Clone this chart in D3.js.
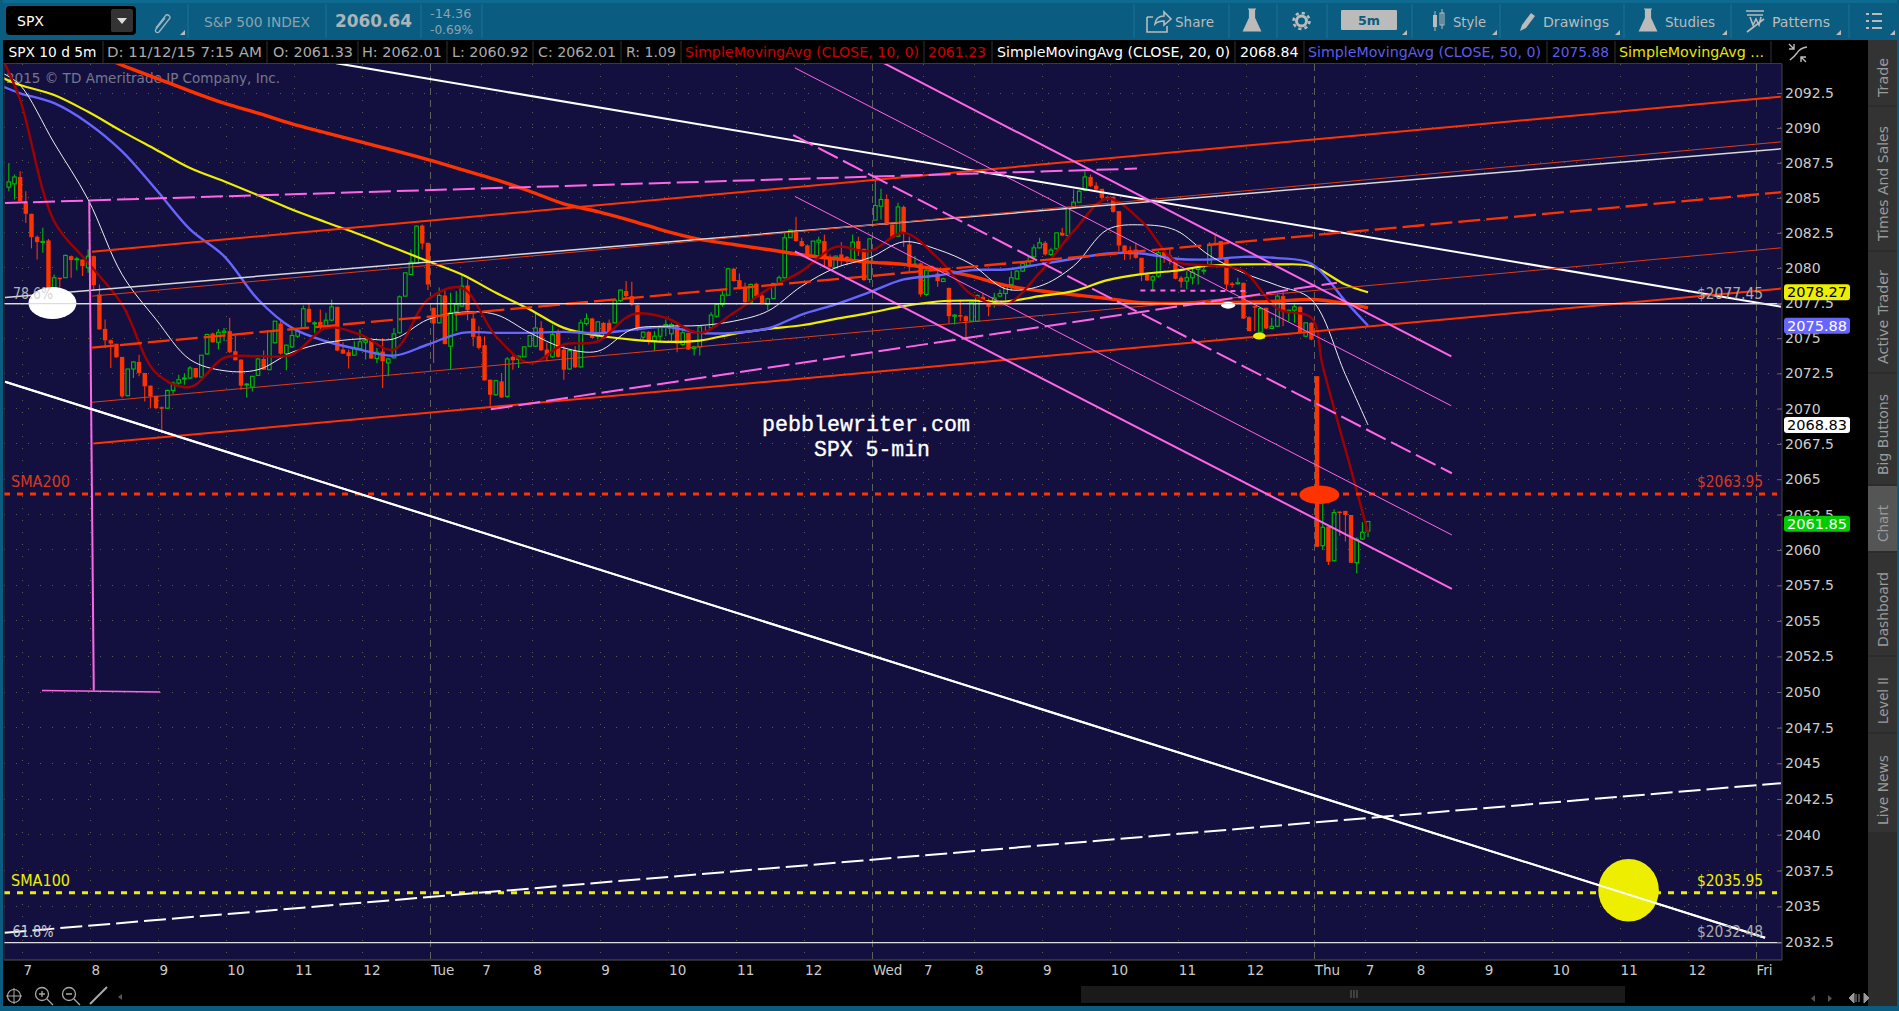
<!DOCTYPE html>
<html><head><meta charset="utf-8">
<script src="https://cdn.jsdelivr.net/npm/d3@7"></script>
<style>html,body{margin:0;padding:0;background:#000;overflow:hidden}svg{display:block}text{font-family:"DejaVu Sans",sans-serif}</style>
</head><body><svg id="c" width="1899" height="1011"></svg>
<script>
const firstBar=3;
const opens=[2085.76,2086.0,2086.49,2084.76,2083.86,2082.22,2081.84,2081.96,2078.35,2079.3,
2079.3,2080.84,2080.6,2080.6,2080.01,2080.84,2078.11,2075.66,2074.85,2074.6,
2073.67,2070.91,2072.81,2073.31,2072.53,2071.63,2070.91,2070.1,2070.03,2071.29,
2071.81,2072.1,2072.17,2072.88,2072.24,2073.88,2075.33,2074.71,2075.4,2075.5,
2074.07,2073.48,2071.67,2071.53,2072.36,2073.52,2072.76,2074.67,2076.04,2073.9,
2074.38,2075.14,2075.73,2077.09,2076.02,2076.16,2075.85,2076.28,2077.23,2074.19,
2074.0,2073.79,2074.26,2074.71,2074.9,2073.55,2074.05,2073.24,2073.6,2075.38,
2077.99,2079.53,2080.32,2083.02,2081.79,2077.16,2076.09,2078.04,2074.43,2076.87,
2077.28,2078.75,2076.4,2075.14,2074.5,2072.05,2070.98,2071.93,2070.87,2073.67,
2073.48,2073.67,2074.43,2074.43,2075.73,2074.19,2073.67,2075.38,2074.19,2072.81,
2074.12,2072.96,2076.04,2076.4,2075.14,2076.09,2076.09,2076.09,2077.68,2078.35,
2077.99,2077.35,2075.07,2075.45,2074.83,2075.14,2075.85,2075.31,2075.8,2074.55,
2075.38,2074.26,2074.38,2075.43,2075.73,2076.56,2077.4,2078.06,2079.94,2079.13,
2078.58,2077.56,2078.87,2078.04,2077.4,2077.82,2078.89,2079.3,2082.15,2082.69,
2081.91,2081.6,2080.89,2081.84,2081.91,2080.72,2080.01,2080.96,2080.79,2080.56,
2081.91,2081.36,2079.18,2083.41,2084.4,2084.92,2083.1,2082.26,2084.35,2081.67,
2080.18,2080.32,2078.11,2080.13,2079.6,2079.03,2078.58,2076.56,2076.64,2076.56,
2076.21,2076.21,2077.94,2077.47,2077.52,2077.99,2078.18,2078.82,2079.22,2079.77,
2080.18,2080.79,2081.43,2081.79,2080.96,2081.36,2082.5,2082.31,2084.28,2084.69,
2085.54,2086.49,2085.87,2085.64,2085.07,2085.07,2084.05,2081.6,2081.27,2081.31,
2080.72,2079.53,2079.13,2079.42,2081.13,2080.89,2080.72,2079.3,2079.06,2079.3,
2079.89,2079.77,2080.25,2081.79,2081.91,2080.72,2078.89,2078.87,2078.94,2076.49,
2077.28,2075.43,2077.16,2075.69,2075.85,2077.99,2076.87,2076.99,2077.23,2075.14,
2076.09,2072.3,2060.3,2061.65,2059.24,2062.71,2062.76,2062.47,2059.1,2060.77,2061.33];
const highs=[2087.49,2086.66,2086.9,2085.47,2083.86,2082.31,2082.86,2082.07,2079.53,2079.3,
2080.96,2080.89,2080.79,2080.6,2081.31,2080.89,2078.82,2076.33,2074.9,2074.6,
2073.67,2072.81,2073.36,2073.83,2072.53,2071.63,2070.91,2070.15,2071.34,2071.93,
2072.41,2072.48,2073.0,2072.88,2073.79,2075.31,2075.38,2075.66,2075.73,2076.45,
2075.19,2073.48,2071.81,2072.29,2073.6,2074.12,2075.5,2076.21,2076.33,2074.55,
2075.78,2075.73,2077.33,2077.52,2076.21,2077.04,2076.8,2077.75,2077.23,2074.71,
2074.19,2074.78,2075.62,2075.02,2075.02,2074.31,2075.02,2073.6,2075.73,2078.04,
2079.65,2081.31,2083.02,2083.1,2081.79,2077.16,2078.6,2078.47,2078.23,2078.35,
2079.46,2079.18,2076.8,2075.85,2075.14,2072.05,2072.05,2072.53,2073.67,2073.79,
2073.76,2074.43,2075.21,2076.8,2076.21,2074.67,2075.97,2075.62,2074.43,2074.19,
2074.43,2076.33,2076.76,2076.45,2076.21,2076.14,2076.33,2077.75,2078.47,2079.06,
2079.01,2077.4,2075.5,2075.5,2075.5,2075.85,2076.33,2076.09,2076.09,2075.73,
2075.38,2074.43,2075.85,2075.85,2076.85,2077.4,2078.35,2080.01,2080.01,2079.61,
2078.94,2078.89,2078.94,2078.27,2077.87,2078.94,2079.46,2082.5,2082.74,2083.64,
2082.15,2081.67,2081.91,2082.22,2082.38,2080.96,2080.89,2081.84,2080.84,2082.38,
2082.22,2081.36,2082.07,2086.3,2085.64,2085.23,2083.1,2084.64,2084.45,2082.22,
2080.84,2080.37,2079.89,2080.17,2079.77,2079.3,2078.58,2076.68,2077.75,2076.61,
2077.63,2078.11,2078.23,2077.8,2078.23,2078.47,2078.82,2079.77,2079.84,2080.37,
2080.84,2081.67,2082.15,2081.91,2081.43,2082.5,2082.86,2084.28,2085.59,2085.54,
2086.9,2086.66,2086.11,2085.64,2085.12,2085.12,2084.05,2081.6,2081.55,2081.79,
2080.72,2079.65,2079.46,2081.2,2081.36,2081.43,2080.72,2079.41,2079.77,2080.01,
2080.01,2080.01,2081.84,2082.31,2081.91,2080.72,2078.99,2079.3,2078.94,2076.56,
2077.33,2077.16,2077.16,2076.45,2078.11,2078.35,2077.04,2077.52,2077.28,2076.09,
2076.14,2072.3,2063.96,2061.65,2062.87,2062.71,2062.76,2062.47,2060.89,2061.95,2062.01];
const lows=[2085.47,2084.88,2084.76,2083.2,2081.39,2080.6,2081.08,2078.35,2077.87,2077.75,
2079.3,2079.3,2079.84,2079.42,2079.65,2078.47,2075.62,2074.31,2072.88,2073.6,
2070.75,2070.87,2072.17,2072.29,2070.51,2070.03,2069.96,2068.25,2069.99,2071.03,
2071.7,2071.7,2072.1,2072.17,2072.2,2073.83,2074.67,2074.19,2074.78,2073.95,
2073.43,2071.34,2070.79,2071.22,2072.34,2072.76,2072.72,2074.62,2073.83,2072.72,
2074.31,2075.02,2075.73,2076.09,2075.38,2075.5,2075.8,2076.21,2074.07,2073.9,
2072.84,2073.79,2074.26,2073.48,2073.52,2073.24,2071.46,2072.29,2073.55,2075.33,
2077.99,2079.53,2080.32,2081.31,2078.42,2073.24,2076.04,2074.55,2072.76,2075.5,
2077.23,2076.28,2074.43,2074.19,2072.0,2070.2,2070.91,2070.75,2070.75,2072.76,
2072.88,2073.67,2074.38,2074.38,2074.09,2073.36,2073.6,2073.6,2072.05,2072.76,
2072.88,2072.91,2075.9,2075.02,2074.9,2075.02,2075.26,2076.04,2077.56,2077.87,
2077.28,2075.5,2074.85,2074.55,2074.07,2074.78,2075.14,2074.78,2074.0,2074.43,
2074.19,2073.76,2073.76,2075.26,2075.69,2076.45,2077.23,2078.06,2079.01,2078.47,
2077.52,2077.52,2077.94,2077.42,2076.99,2077.8,2078.87,2079.25,2082.15,2081.86,
2081.5,2080.84,2080.84,2080.84,2080.01,2080.01,2079.99,2080.13,2080.18,2080.48,
2080.84,2079.06,2078.94,2083.41,2083.45,2083.05,2082.15,2082.22,2081.5,2079.77,
2080.13,2077.94,2077.99,2079.77,2078.66,2078.99,2076.04,2075.97,2076.21,2075.02,
2076.16,2076.16,2077.63,2076.56,2077.16,2077.94,2077.56,2078.35,2079.18,2079.72,
2080.08,2080.72,2081.39,2080.89,2080.84,2081.31,2082.26,2082.26,2084.28,2084.69,
2085.47,2085.78,2085.54,2084.76,2084.76,2083.93,2081.2,2080.56,2080.6,2080.65,
2079.06,2079.06,2078.35,2079.3,2080.37,2080.25,2079.18,2078.58,2078.47,2078.82,
2078.82,2079.53,2080.13,2081.6,2080.6,2078.47,2078.58,2078.82,2076.39,2075.5,
2075.5,2075.38,2075.66,2075.66,2075.8,2075.85,2076.21,2076.09,2075.38,2075.09,
2074.85,2060.23,2060.0,2058.94,2059.17,2061.01,2060.59,2059.1,2058.35,2060.7,2060.92];
const closes=[2086.14,2086.49,2084.76,2083.86,2082.19,2081.84,2081.89,2078.47,2079.3,2079.25,
2080.89,2080.56,2080.65,2080.13,2080.84,2078.77,2075.62,2074.85,2074.62,2073.64,
2070.87,2072.81,2073.31,2072.53,2071.58,2070.87,2070.03,2070.03,2071.29,2071.81,
2072.05,2072.17,2072.88,2072.22,2073.79,2075.26,2074.71,2075.42,2075.5,2074.0,
2073.43,2071.63,2071.74,2072.29,2073.52,2072.76,2075.5,2076.21,2073.9,2074.5,
2075.19,2075.5,2077.09,2076.14,2076.09,2075.85,2076.28,2077.23,2074.12,2073.9,
2073.72,2074.31,2074.74,2074.85,2073.55,2074.0,2073.36,2073.52,2075.31,2077.94,
2079.65,2080.41,2082.98,2081.74,2078.82,2076.04,2078.04,2074.59,2076.8,2077.4,
2078.7,2076.99,2075.09,2074.31,2072.0,2070.98,2071.98,2070.79,2073.52,2073.43,
2073.72,2074.38,2075.19,2075.73,2074.14,2073.72,2075.26,2073.67,2072.76,2074.12,
2072.93,2076.09,2076.38,2075.02,2076.16,2075.38,2075.38,2077.7,2078.42,2077.99,
2077.4,2075.62,2075.43,2074.85,2075.14,2075.85,2075.97,2075.97,2074.62,2075.38,
2074.19,2074.38,2075.8,2075.38,2076.64,2077.4,2078.06,2079.94,2079.06,2078.58,
2077.56,2078.82,2077.99,2077.47,2077.8,2078.89,2079.3,2082.15,2082.69,2081.91,
2081.55,2080.89,2081.91,2081.98,2080.72,2080.08,2080.84,2080.6,2080.72,2081.84,
2081.31,2079.13,2082.07,2084.45,2084.88,2083.1,2082.15,2084.35,2082.5,2080.08,
2080.27,2078.11,2079.84,2079.84,2079.06,2079.22,2076.56,2076.64,2076.56,2076.21,
2077.56,2078.04,2077.7,2077.23,2077.87,2078.18,2078.75,2079.3,2079.77,2080.32,
2080.48,2081.43,2081.79,2080.96,2081.27,2082.5,2082.31,2084.28,2084.69,2085.47,
2086.49,2085.83,2085.59,2085.0,2085.0,2084.0,2081.6,2081.08,2080.96,2080.72,
2079.6,2079.11,2079.37,2081.08,2080.79,2080.48,2079.23,2079.01,2079.3,2079.7,
2080.01,2079.84,2081.67,2081.67,2080.72,2078.82,2078.82,2078.94,2076.39,2075.5,
2077.23,2077.11,2075.69,2075.85,2077.99,2076.92,2076.99,2077.23,2075.43,2076.09,
2074.9,2060.23,2061.6,2059.17,2062.64,2062.64,2062.47,2059.1,2060.75,2061.25,2062.01];

const maIdx=[2,5,11,17,23,29,35,41,47,53,59,65,71,77,83,89,95,101,107,113,119,125,131,137,143,149,155,161,167,173,179,185,191,197,203,209,215,221,227,233,239,243];
const sma10Idx=[2,5,11,17,23,29,35,41,47,53,59,65,71,77,83,89,95,101,107,113,119,125,131,137,143,149,155,161,167,173,179,185,191,197,203,209,215,221,227,233,235,240,243];
const sma10=[2094.85,2092.0,2083.33,2080.37,2077.4,2072.53,2071.53,2073.6,2073.72,2073.83,2075.73,2075.26,2074.19,2077.75,2078.58,2075.14,2073.24,2074.55,2074.78,2076.68,2076.45,2075.38,2076.8,2078.47,2079.77,2081.5,2081.2,2082.5,2080.72,2078.11,2077.4,2079.65,2082.62,2084.93,2083.33,2080.48,2080.17,2079.77,2077.09,2076.45,2073.0,2065.66,2061.23];
const sma20=[2093.9,2093.07,2088.92,2084.88,2079.53,2076.33,2073.48,2072.69,2072.76,2074.0,2074.67,2074.95,2074.95,2076.33,2076.85,2076.68,2075.38,2074.31,2074.07,2075.62,2075.85,2075.9,2076.21,2076.92,2078.7,2080.01,2080.72,2081.86,2081.31,2080.25,2078.51,2078.7,2080.13,2082.74,2083.07,2082.69,2080.89,2079.65,2078.75,2077.75,2072.41,2068.84];
const sma50=[2092.95,2092.48,2091.77,2090.34,2088.32,2085.59,2082.74,2080.84,2077.75,2075.73,2074.78,2074.19,2073.76,2074.55,2075.38,2075.38,2075.38,2075.45,2075.35,2075.59,2075.8,2075.38,2075.38,2075.69,2076.68,2077.4,2078.27,2079.18,2079.46,2079.84,2079.89,2080.25,2080.65,2081.03,2081.03,2080.65,2080.6,2080.79,2080.7,2080.3,2077.63,2075.88];
const sma100=[2093.57,2093.07,2092.36,2091.15,2089.75,2088.44,2087.13,2086.18,2085.19,2084.17,2083.26,2082.38,2081.43,2080.48,2079.53,2078.23,2077.04,2075.73,2075.19,2074.9,2074.74,2074.83,2075.31,2075.66,2075.92,2076.37,2076.8,2077.28,2077.61,2077.68,2077.61,2077.99,2078.35,2079.13,2079.56,2079.8,2080.17,2080.25,2080.25,2080.13,2078.82,2078.27];
const sma200Idx=[17,23,29,35,41,47,53,59,65,71,77,83,89,95,101,107,113,119,125,131,137,143,149,155,161,167,173,179,185,191,197,203,209,215,221,227,233,239,243];
const sma200=[2095.57,2094.5,2093.57,2092.64,2091.77,2091.05,2090.29,2089.65,2089.01,2088.39,2087.73,2087.02,2086.3,2085.47,2084.57,2084.02,2083.36,2082.62,2082.03,2081.67,2081.31,2080.94,2080.65,2080.41,2080.25,2079.89,2079.42,2078.75,2078.37,2078.09,2077.82,2077.52,2077.47,2077.52,2077.56,2077.63,2077.75,2077.47,2077.16];

// trend lines: [bar1, price1, bar2, price2]
const whiteUpper=[61.3,2094.64,316.4,2077.24];
const whiteLower=[2.83,2071.9,313.6,2032.82];
const whiteDashed=[2.74,2033.16,316.4,2043.61];
const whiteThin=[2.83,2077.9,316.4,2088.5];
const channelTop=[18.2,2081.16,316.4,2092.24];
const channelThinTop=[18.2,2077.99,316.4,2089.0];
const channelMid=[18.2,2074.33,316.4,2085.4];
const channelThinLow=[18.2,2070.45,316.4,2081.43];
const channelLow=[18.4,2067.52,316.4,2078.53];
const pinkVertical=[17.7,2084.73,18.5,2050.1];
const pinkFoot=[9.36,2050.1,30.2,2050.0];
const pinkFlatDash=[2.83,2084.63,202.7,2087.09];
const pinkRiseDash=[88.6,2069.95,238.0,2078.95];
const pinkShortDash=[203.3,2078.4,222.3,2078.35];
const pinkFall1=[158.0,2094.64,258.2,2073.7];
const pinkFallThin1=[142.3,2094.3,258.2,2070.2];
const pinkFallDash=[142.0,2089.48,258.3,2065.42];
const pinkFallThin2=[142.3,2085.1,258.3,2061.06];
const pinkFall2=[142.3,2081.17,258.3,2057.25];

const priceTicks=d3.range(2032.5,2093,2.5);
const timeTickBars=[6,18,30,42,54,66,78,87,96,108,120,132,144,156,165,174,186,198,210,222,234,243,252,264,276,288,300,312];
const timeTickLabels=["7","8","9","10","11","12","Tue","7","8","9","10","11","12","Wed","7","8","9","10","11","12","Thu","7","8","9","10","11","12","Fri"];
const dayBars=[78,156,234,312];
const levels=[{p:2077.45,label:"$2077.45",name:"78.6%",color:"#dddddd",tc:"#aaaaaa"},{p:2063.95,label:"$2063.95",name:"SMA200",color:"#ff3300",tc:"#d8391a"},{p:2035.95,label:"$2035.95",name:"SMA100",color:"#eeee00",tc:"#eeee00"},{p:2032.48,label:"$2032.48",name:"61.8%",color:"#dddddd",tc:"#aaaaaa"}];
const priceTags=[{v:2078.27,t:"2078.27",bg:"#eeee00",fg:"#000"},{v:2075.88,t:"2075.88",bg:"#6666ff",fg:"#fff"},{v:2068.83,t:"2068.83",bg:"#ffffff",fg:"#000"},{v:2061.85,t:"2061.85",bg:"#00cc00",fg:"#fff"}];

const svg=d3.select("#c");
const x=d3.scaleLinear().domain([0,312]).range([-11,1756]);
const y=d3.scaleLog().domain([2032.5,2092.5]).range([942.3,93]);
const L=4,R=1782,T=64,B=960;
const BAR="#0a5c80",ORANGE="#ff3300",GREEN="#00bb00",PINK="#ff66e6";

function txt(g,px,py,s,color,size,w,o={}){
  const t=g.append("text").attr("x",px).attr("y",py).attr("dy","0.35em").attr("fill",color).attr("font-size",size).text(s);
  if(w){t.attr("textLength",w).attr("lengthAdjust","spacingAndGlyphs");}
  if(o.weight)t.attr("font-weight",o.weight);
  if(o.family)t.style("font-family",o.family);
  if(o.anchor)t.attr("text-anchor",o.anchor);
  if(o.rot)t.attr("transform",`rotate(${o.rot} ${px} ${py})`);
  return t;
}
// frame
svg.append("rect").attr("width",1899).attr("height",1011).attr("fill","#000");
svg.append("rect").attr("width",1899).attr("height",40).attr("fill",BAR);
svg.append("rect").attr("width",1899).attr("height",3).attr("fill","#0d6a90");
svg.append("rect").attr("y",1006).attr("width",1899).attr("height",5).attr("fill",BAR);
svg.append("rect").attr("width",3).attr("height",1011).attr("fill",BAR);
svg.append("rect").attr("x",1897).attr("width",2).attr("height",1011).attr("fill",BAR);
svg.append("rect").attr("x",L).attr("y",T).attr("width",R-L).attr("height",B-T).attr("fill","#131040");

// grid
const grid=svg.append("g").attr("stroke","#5a5a50").attr("stroke-width",1).attr("shape-rendering","crispEdges");
grid.selectAll(".h").data(priceTicks).join("line").attr("x1",L).attr("x2",R).attr("y1",d=>y(d)).attr("y2",d=>y(d)).attr("stroke-dasharray","1,11");
grid.selectAll(".v").data(timeTickBars.filter(d=>!dayBars.includes(d))).join("line").attr("x1",d=>x(d)).attr("x2",d=>x(d)).attr("y1",T).attr("y2",B).attr("stroke-dasharray","1,11");
grid.selectAll(".d").data(dayBars).join("line").attr("x1",d=>x(d)).attr("x2",d=>x(d)).attr("y1",T).attr("y2",B).attr("stroke-dasharray","7,5").attr("stroke","#5f5f5f");

svg.append("defs").append("clipPath").attr("id","plot").append("rect").attr("x",L).attr("y",T).attr("width",R-L).attr("height",B-T);
const plot=svg.append("g").attr("clip-path","url(#plot)");

// watermark
txt(plot,6,78,"2015 © TD Ameritrade IP Company, Inc.","#77778c",14.5,274);

// candles
const idx=d3.range(opens.length);
const cx=i=>x(firstBar+i+0.5);
const candles=plot.append("g");
candles.selectAll(".w").data(idx).join("line").attr("x1",cx).attr("x2",cx).attr("y1",i=>y(highs[i])).attr("y2",i=>y(lows[i]))
  .attr("stroke",i=>closes[i]>=opens[i]?GREEN:ORANGE).attr("stroke-width",1.1);
candles.selectAll(".r").data(idx.filter(i=>closes[i]<opens[i])).join("rect")
  .attr("x",i=>cx(i)-2.2).attr("width",4.4).attr("y",i=>y(opens[i])).attr("height",i=>Math.max(1.5,y(closes[i])-y(opens[i]))).attr("fill",ORANGE);
candles.selectAll(".g").data(idx.filter(i=>closes[i]>=opens[i])).join("rect")
  .attr("x",i=>cx(i)-1.8).attr("width",3.6).attr("y",i=>y(closes[i])).attr("height",i=>Math.max(1,y(opens[i])-y(closes[i]))).attr("fill","#131040").attr("stroke",GREEN).attr("stroke-width",1.1);

// moving averages
function ma(ix,vals,color,w){
  const path=d3.line().x((d,i)=>x(ix[i]+0.5)).y(d=>y(d)).curve(d3.curveCatmullRom.alpha(0.5));
  plot.append("path").datum(vals).attr("d",path).attr("fill","none").attr("stroke",color).attr("stroke-width",w).attr("stroke-linejoin","round");
}
ma(sma200Idx,sma200,ORANGE,3.4);
ma(maIdx,sma100,"#eeee00",2.2);
ma(maIdx,sma50,"#6666ff",2.4);
ma(maIdx,sma20,"#eeeeee",1);
ma(sma10Idx,sma10,"#a00000",2.4);

// levels
plot.selectAll(".lv0").data([levels[0],levels[3]]).join("line").attr("x1",L).attr("x2",R).attr("y1",d=>y(d.p)).attr("y2",d=>y(d.p)).attr("stroke","#dddddd").attr("stroke-width",1.2);
plot.selectAll(".lv1").data([levels[1],levels[2]]).join("line").attr("x1",L).attr("x2",1777).attr("y1",d=>y(d.p)).attr("y2",d=>y(d.p)).attr("stroke",d=>d.color).attr("stroke-width",3).attr("stroke-dasharray","6,7");

// trend lines
function tl(a,color,w,dash){
  const l=plot.append("line").attr("x1",x(a[0])).attr("y1",y(a[1])).attr("x2",x(a[2])).attr("y2",y(a[3])).attr("stroke",color).attr("stroke-width",w);
  if(dash)l.attr("stroke-dasharray",dash);
}
tl(whiteUpper,"#ffffff",2);tl(whiteLower,"#ffffff",2);tl(whiteDashed,"#ffffff",2,"22,6");tl(whiteThin,"#d8d8d8",1.5);
tl(channelTop,ORANGE,2);tl(channelThinTop,"#e03a14",1);tl(channelMid,ORANGE,2.3,"22,6");tl(channelThinLow,"#e03a14",1);tl(channelLow,ORANGE,2);
tl(pinkVertical,PINK,2);tl(pinkFoot,PINK,1.5);tl(pinkFlatDash,PINK,2,"22,6");tl(pinkRiseDash,PINK,2,"22,6");tl(pinkShortDash,PINK,2,"5,5");
tl(pinkFall1,PINK,2);tl(pinkFallThin1,PINK,1);tl(pinkFallDash,PINK,2,"22,6");tl(pinkFallThin2,PINK,1);tl(pinkFall2,PINK,2);

// ellipses
const marks=[{t:11.2,p:2077.5,rx:24,ry:16,c:"#ffffff"},{t:234.9,p:2063.9,rx:20,ry:9.3,c:ORANGE},{t:289.5,p:2036.13,rx:30.3,ry:31.3,c:"#eeee00"},{t:218.8,p:2077.35,rx:7,ry:3.5,c:"#ffffff"},{t:224.3,p:2075.16,rx:6.3,ry:3.5,c:"#eeee00"}];
const eG=plot.append("g");
eG.selectAll("ellipse").data(marks).join("ellipse").attr("cx",d=>x(d.t)).attr("cy",d=>y(d.p)).attr("rx",d=>d.rx).attr("ry",d=>d.ry).attr("fill",d=>d.c);
// lines over the yellow disc and the white ellipse
tl(whiteLower,"#ffffff",2);tl([2.83,2077.45,316.4,2077.45],"#dddddd",1.2);

// labels in plot
txt(plot,13,294,"78.6%","#cccccc",15,40).attr("opacity",.85);
txt(plot,11,481.5,"SMA200","#d8391a",15,59);
txt(plot,11,881,"SMA100","#eeee00",15,59);
txt(plot,12.5,932,"61.8%","#cccccc",15,41);
[0,1,2,3].forEach((k,n)=>{const yy=[294,481.7,880.7,931.7][n];txt(plot,1697,yy,levels[k].label,levels[k].tc,15,66);});
txt(plot,762,423,"pebblewriter.com","#ffffff",21.7,208,{family:"Liberation Mono"}).attr("stroke","#fff").attr("stroke-width",.35);
txt(plot,814,448,"SPX 5-min","#ffffff",21.7,116,{family:"Liberation Mono"}).attr("stroke","#fff").attr("stroke-width",.35);

// axes
const yAxis=d3.axisRight(y).tickValues(priceTicks).tickSize(5).tickPadding(3).tickFormat(d=>d%1?d3.format(".1f")(d):d3.format("d")(d));
const ya=svg.append("g").attr("transform",`translate(1777,0)`).call(yAxis);
ya.select(".domain").remove();
ya.selectAll("line").attr("stroke","#666");
ya.selectAll("text").attr("fill","#cccccc").attr("font-size",14).attr("font-family","DejaVu Sans");
svg.append("line").attr("x1",R).attr("x2",R).attr("y1",T).attr("y2",B).attr("stroke","#444");
const tickMap=new Map(timeTickBars.map((b,i)=>[b,timeTickLabels[i]]));
const xAxis=d3.axisBottom(x).tickValues(timeTickBars).tickSize(0).tickPadding(5).tickFormat(d=>tickMap.get(d));
const xa=svg.append("g").attr("transform",`translate(0,${B})`).call(xAxis);
xa.select(".domain").remove();
xa.selectAll("text").attr("fill","#cccccc").attr("font-size",13.5).attr("text-anchor","start").attr("font-family","DejaVu Sans");
svg.append("line").attr("x1",L).attr("x2",R).attr("y1",B).attr("y2",B).attr("stroke","#555");
svg.append("line").attr("x1",L).attr("x2",L).attr("y1",T).attr("y2",B).attr("stroke","#333");

// price tags
const tg=svg.append("g");
priceTags.forEach(d=>{const py=y(d.v);
  tg.append("rect").attr("x",1784).attr("y",py-8).attr("width",66).attr("height",16).attr("rx",3).attr("fill",d.bg);
  txt(tg,1787,py,d.t,d.fg,14,60);
});

// header row
const hdr=svg.append("g");
const cells=[["SPX 10 d 5m",8.5,88,"#fff",103],["D: 11/12/15 7:15 AM",107,155,"#aaa",267],["O: 2061.33",273,80,"#aaa",358],["H: 2062.01",362,80,"#aaa",447],["L: 2060.92",452,76.5,"#aaa",533],["C: 2062.01",538,78,"#aaa",621],["R: 1.09",626,50,"#aaa",681],
["SimpleMovingAvg (CLOSE, 10, 0)",685,234,"#cc0000",924],["2061.23",928,58,"#cc0000",992],["SimpleMovingAvg (CLOSE, 20, 0)",997,233,"#ffffff",1235],["2068.84",1240,58.5,"#ffffff",1304],["SimpleMovingAvg (CLOSE, 50, 0)",1308,233,"#5c5cee",1547],["2075.88",1552,57,"#5c5cee",1615],["SimpleMovingAvg ...",1619,145,"#e6e600",1771]];
cells.forEach(c=>{txt(hdr,c[1],52,c[0],c[3],13.5,c[2]);hdr.append("line").attr("x1",c[4]).attr("x2",c[4]).attr("y1",41).attr("y2",63).attr("stroke","#333");});
hdr.append("line").attr("x1",3).attr("x2",1782).attr("y1",63.5).attr("y2",63.5).attr("stroke","#3a3a3a");
hdr.append("path").attr("d","M1790 60 q4 -3 7 -7 q3 -5 10 -6 M1789 44 l5 5 M1794 44 v5 h-5 M1806 62 l-5 -5 M1801 62 v-5 h5").attr("fill","none").attr("stroke","#bbb").attr("stroke-width",1.4);

// top bar
const topBar=svg.append("g");
topBar.append("rect").attr("x",6).attr("y",6).attr("width",130).attr("height",29).attr("rx",4).attr("fill","#000");
topBar.append("rect").attr("x",111).attr("y",9).attr("width",22).attr("height",23).attr("rx",2).attr("fill","#333");
topBar.append("path").attr("d","M117 18 h10 l-5 6 z").attr("fill","#ddd");
txt(topBar,17,21,"SPX","#fff",14);
topBar.append("path").attr("d","M156 28 l10 -13 a3 3 0 0 1 4 3 l-11 14 a2 2 0 0 1 -3 -3 l9 -11").attr("fill","none").attr("stroke","#9fb4bf").attr("stroke-width",1.4);
[188,326,421,482,1134,1229,1277,1327,1412,1500,1624,1731,1849].forEach(s=>topBar.append("line").attr("x1",s).attr("x2",s).attr("y1",4).attr("y2",38).attr("stroke","#1a7298"));
[182,1404,1494,1617,1724,1838,1892].forEach(s=>topBar.append("path").attr("d",`M${s-2} 35 h5 v-5 z`).attr("fill","#bbb"));
txt(topBar,204,22,"S&P 500 INDEX","#8aa3b0",14,106);
txt(topBar,335,21,"2060.64","#aab4ba",18,77,{weight:"bold"});
txt(topBar,430,14,"-14.36","#8aa3b0",12,41.5);
txt(topBar,430,30,"-0.69%","#8aa3b0",12,43);
txt(topBar,1175,22,"Share","#bbbbbb",14,39);
txt(topBar,1453,22,"Style","#bbbbbb",14,33);
txt(topBar,1543,22,"Drawings","#bbbbbb",14,66);
txt(topBar,1665,22,"Studies","#bbbbbb",14,50);
txt(topBar,1772,22,"Patterns","#bbbbbb",14,58);
topBar.append("rect").attr("x",1341).attr("y",10).attr("width",56).attr("height",20).attr("rx",1).attr("fill","#bbbbbb");
txt(topBar,1358,20,"5m",BAR,13,22,{weight:"bold"});
const icon="#bbbbbb";
topBar.append("path").attr("d","M1147 17 h6 M1147 17 v15 h20 v-6 M1155 24 q1 -8 9 -8 v-4 l7 7 -7 6 v-4 q-6 0 -9 3z").attr("fill","none").attr("stroke",icon).attr("stroke-width",1.6);
[1252,1648].forEach(f=>topBar.append("path").attr("d",`M${f-4} 9 h8 M${f-2.5} 9 v9 l-6 13 h17 l-6 -13 v-9`).attr("fill",icon).attr("stroke",icon).attr("stroke-width",1.2));
topBar.append("circle").attr("cx",1301.5).attr("cy",21).attr("r",5).attr("fill","none").attr("stroke",icon).attr("stroke-width",3);
topBar.append("circle").attr("cx",1301.5).attr("cy",21).attr("r",8).attr("fill","none").attr("stroke",icon).attr("stroke-width",2.5).attr("stroke-dasharray","3.2,3.08");
topBar.append("rect").attr("x",1433).attr("y",15).attr("width",4).attr("height",12).attr("fill",icon);
topBar.append("rect").attr("x",1440).attr("y",13).attr("width",4).attr("height",12).attr("fill","none").attr("stroke",icon);
topBar.append("path").attr("d","M1435 11 v20 M1442 9 v20").attr("stroke",icon);
topBar.append("path").attr("d","M1520 31 l2 -6 l9 -12 l4 3 l-9 12 z").attr("fill",icon);
topBar.append("path").attr("d","M1746 11 h18 M1747 15 h16 M1747 32 l17 -13 M1750 17 l3 8 l3 -6 l3 6 l2 -8").attr("fill","none").attr("stroke",icon).attr("stroke-width",1.6);
[14,21,28].forEach(m=>topBar.append("path").attr("d",`M1866 ${m} h3 M1872 ${m} h10`).attr("stroke",icon).attr("stroke-width",2));

// side tabs
const side=svg.append("g");
side.append("rect").attr("x",1868).attr("y",40).attr("width",29).attr("height",966).attr("fill","#2c2c2c");
const tabs=[["Trade",40,107,58,97],["Times And Sales",107,252,126,241],["Active Trader",252,374,270,364],["Big Buttons",374,486,394,475],["Chart",486,553,505,542],["Dashboard",553,657,572,647],["Level II",657,734,677,724],["Live News",734,834,755,825]];
tabs.forEach(t=>{
  side.append("rect").attr("x",1868).attr("y",t[1]).attr("width",29).attr("height",t[2]-t[1]-2).attr("fill",t[0]==="Chart"?"#555":"#333");
  txt(side,1883,t[4],t[0],"#9a9a9a",14,t[4]-t[3],{rot:-90});
});

// bottom bar
const bot=svg.append("g");
bot.append("rect").attr("x",1081).attr("y",986).attr("width",544).attr("height",17).attr("fill","#1a1a1a");
bot.append("path").attr("d","M1351 990 v8 M1354 990 v8 M1357 990 v8").attr("stroke","#666");
bot.append("path").attr("d","M1815 995 l-4 3.5 4 3.5z M1828 995 l4 3.5 -4 3.5z").attr("fill","#555");
bot.append("path").attr("d","M1849 998 l5 -5 v10z M1864 993 l5 5 -5 5z M1856 994 v8 M1859 994 v8").attr("fill","#999").attr("stroke","#999");
const ic="#aaaaaa";
bot.append("circle").attr("cx",14).attr("cy",996).attr("r",6.5).attr("fill","none").attr("stroke",ic).attr("stroke-width",1.2);
bot.append("path").attr("d","M6 996 h16 M14 988 v16").attr("stroke",ic);
[42,69].forEach((m,n)=>{bot.append("circle").attr("cx",m).attr("cy",994).attr("r",6.5).attr("fill","none").attr("stroke",ic).attr("stroke-width",1.3);
 bot.append("path").attr("d",`M${m+5} 999 l6 6 M${m-3} 994 h6`+(n?"":` M${m} 991 v6`)).attr("stroke",ic).attr("stroke-width",1.3);});
bot.append("path").attr("d","M90 1004 L107 987").attr("stroke",ic).attr("stroke-width",2);
bot.append("path").attr("d","M118 997 l4 -3 v6z").attr("fill","#555");
</script></body></html>
